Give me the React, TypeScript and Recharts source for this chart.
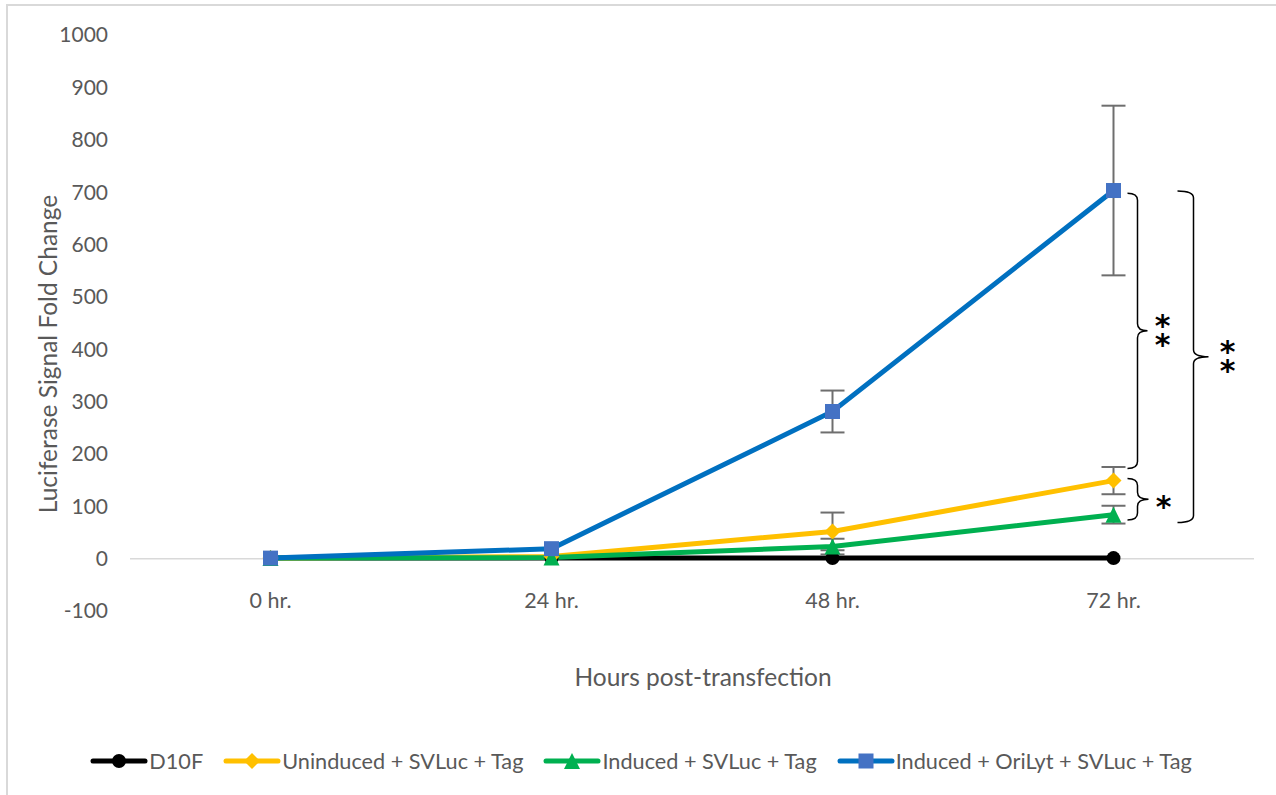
import React from "react";
import {
  ErrorBar,
  Line,
  LineChart,
  ReferenceArea,
  ReferenceLine,
  XAxis,
  YAxis,
} from "recharts";

const hours = ["0 hr.", "24 hr.", "48 hr.", "72 hr."];

// fold change per time point, with +/- error where it was measured
const d10f = [1, 1, 1, 1];
const uninduced = [1, 4, 52, 149];
const uninducedErr = [null, null, 36, 26];
const induced = [1, 2, 23, 84];
const inducedErr = [null, null, 15, 17];
const oriLyt = [1, 19, 281, 703];
const oriLytErr = [null, null, 40, 162];

const yTicks = [-100, 0, 100, 200, 300, 400, 500, 600, 700, 800, 900, 1000];

// significance braces at 72 hr: [low, high] in fold change, and the star label
const braceRanges: [number, number][] = [
  [172, 698],
  [74, 153],
  [69, 702],
];
const braceStars = ["**", "*", "**"];

const seriesNames = [
  "D10F",
  "Uninduced + SVLuc + Tag",
  "Induced + SVLuc + Tag",
  "Induced + OriLyt + SVLuc + Tag",
];

const data = hours.map((hour, i) => ({
  hour,
  d10f: d10f[i],
  uninduced: uninduced[i],
  uninducedErr: uninducedErr[i],
  induced: induced[i],
  inducedErr: inducedErr[i],
  oriLyt: oriLyt[i],
  oriLytErr: oriLytErr[i],
}));

const FONT = "Lato, 'Open Sans', sans-serif";
const TEXT = "#595959";
const COLORS = ["#000000", "#FFC000", "#00B050", "#0070C0"];
const MARKER_FILL = ["#000000", "#FFC000", "#00B050", "#4472C4"];

function Marker({ kind, cx, cy }: { kind: number; cx: number; cy: number }) {
  const fill = MARKER_FILL[kind];
  if (kind === 0) return <circle cx={cx} cy={cy} r={7} fill={fill} />;
  if (kind === 1)
    return <polygon points={`${cx},${cy - 8} ${cx + 8},${cy} ${cx},${cy + 8} ${cx - 8},${cy}`} fill={fill} />;
  if (kind === 2)
    return <polygon points={`${cx},${cy - 8} ${cx + 8},${cy + 8} ${cx - 8},${cy + 8}`} fill={fill} />;
  return <rect x={cx - 7.5} y={cy - 7.5} width={15} height={15} fill={fill} />;
}

const dotFor = (kind: number) => (p: any) =>
  <Marker key={`m-${kind}-${p.index}`} kind={kind} cx={p.cx} cy={p.cy} />;

// offsets (px from the 72 hr point): brace ends, vertical stem, tip, star gap
const braceGeom = [
  { start: 14, stem: 24, tip: 34, gap: 15 },
  { start: 14, stem: 24, tip: 35, gap: 15 },
  { start: 64, stem: 80, tip: 95, gap: 19 },
];

function Brace(props: any) {
  const { x, y, width, height, idx } = props;
  const g = braceGeom[idx];
  const cx = x + width / 2;
  const top = y;
  const bot = y + height;
  const mid = (top + bot) / 2;
  const L = cx + g.start;
  const S = cx + g.stem;
  const T = cx + g.tip;
  const r = 7;
  const d = [
    `M${L},${top}`,
    `Q${S},${top} ${S},${top + r}`,
    `L${S},${mid - r}`,
    `Q${S},${mid} ${T},${mid}`,
    `Q${S},${mid} ${S},${mid + r}`,
    `L${S},${bot - r}`,
    `Q${S},${bot} ${L},${bot}`,
  ].join(" ");
  const stars = braceStars[idx].split("");
  const sx = T + g.gap;
  const firstY = mid + (stars.length === 1 ? 4 : -9) + 14;
  return (
    <g>
      <path d={d} fill="none" stroke="#000" strokeWidth={1.5} />
      <text
        x={sx}
        y={firstY}
        textAnchor="middle"
        fontFamily="'DejaVu Sans', sans-serif"
        fontWeight="bold"
        fontSize={30}
        fill="#000"
      >
        {stars.map((s, i) => (
          <tspan key={i} x={sx} dy={i === 0 ? 0 : 19}>
            {s}
          </tspan>
        ))}
      </text>
    </g>
  );
}

function HourTick({ x, y, payload }: any) {
  return (
    <text x={x} y={y - 19} textAnchor="middle" dominantBaseline="central" fontFamily={FONT} fontSize={21.5} fill={TEXT}>
      {payload.value}
    </text>
  );
}

function LegendItem({ kind, name }: { kind: number; name: string }) {
  return (
    <div style={{ display: "flex", alignItems: "center" }}>
      <svg width={58} height={20}>
        <line x1={3} y1={10} x2={55} y2={10} stroke={COLORS[kind]} strokeWidth={5} strokeLinecap="round" />
        <Marker kind={kind} cx={29} cy={10} />
      </svg>
      <span style={{ marginLeft: 1 }}>{name}</span>
    </div>
  );
}

export default function App() {
  return (
    <div
      style={{
        position: "fixed",
        left: 0,
        top: 0,
        width: 1276,
        height: 795,
        background: "#fff",
        overflow: "hidden",
        fontFamily: FONT,
        color: TEXT,
      }}
    >
      <div
        style={{
          position: "absolute",
          left: 6,
          top: 4,
          width: 1300,
          height: 820,
          border: "2px solid #d9d9d9",
        }}
      />
      <div style={{ position: "absolute", left: 0, top: 0 }}>
        <LineChart width={1276} height={795} data={data} margin={{ top: 35, right: 22, bottom: 154, left: 70 }}>
          <XAxis
            dataKey="hour"
            height={30}
            padding={{ left: 140.5, right: 140.5 }}
            axisLine={false}
            tickLine={false}
            tick={<HourTick />}
          />
          <YAxis
            width={60}
            domain={[-100, 1000]}
            ticks={yTicks}
            interval={0}
            axisLine={false}
            tickLine={false}
            tickSize={0}
            tickMargin={22}
            tick={{ fontSize: 21, fill: TEXT, fontFamily: FONT }}
          />
          <ReferenceLine y={0} stroke="#d9d9d9" strokeWidth={1.5} />
          <Line dataKey="d10f" stroke={COLORS[0]} strokeWidth={5} dot={dotFor(0)} isAnimationActive={false} />
          <Line dataKey="uninduced" stroke={COLORS[1]} strokeWidth={5} dot={dotFor(1)} isAnimationActive={false}>
            <ErrorBar dataKey="uninducedErr" direction="y" width={12} stroke="#6e6e6e" strokeWidth={2} />
          </Line>
          <Line dataKey="induced" stroke={COLORS[2]} strokeWidth={5} dot={dotFor(2)} isAnimationActive={false}>
            <ErrorBar dataKey="inducedErr" direction="y" width={12} stroke="#6e6e6e" strokeWidth={2} />
          </Line>
          <Line dataKey="oriLyt" stroke={COLORS[3]} strokeWidth={5} dot={dotFor(3)} isAnimationActive={false}>
            <ErrorBar dataKey="oriLytErr" direction="y" width={12} stroke="#6e6e6e" strokeWidth={2} />
          </Line>
          {braceRanges.map(([lo, hi], i) => (
            <ReferenceArea
              key={`brace-${i}`}
              x1="72 hr."
              x2="72 hr."
              y1={lo}
              y2={hi}
              ifOverflow="visible"
              shape={(p: any) => <Brace {...p} idx={i} />}
            />
          ))}
        </LineChart>
      </div>
      <div
        style={{
          position: "absolute",
          left: 47,
          top: 354,
          transform: "translate(-50%, -50%) rotate(-90deg)",
          whiteSpace: "nowrap",
          fontSize: 24.5,
        }}
      >
        Luciferase Signal Fold Change
      </div>
      <div
        style={{
          position: "absolute",
          left: 703,
          top: 676,
          transform: "translate(-50%, -50%)",
          whiteSpace: "nowrap",
          fontSize: 24.5,
        }}
      >
        Hours post-transfection
      </div>
      <div
        style={{
          position: "absolute",
          left: 0,
          top: 748,
          width: 1276,
          paddingLeft: 6,
          boxSizing: "border-box",
          display: "flex",
          justifyContent: "center",
          gap: 20,
          fontSize: 21.7,
        }}
      >
        {seriesNames.map((n, i) => (
          <LegendItem key={n} kind={i} name={n} />
        ))}
      </div>
    </div>
  );
}
